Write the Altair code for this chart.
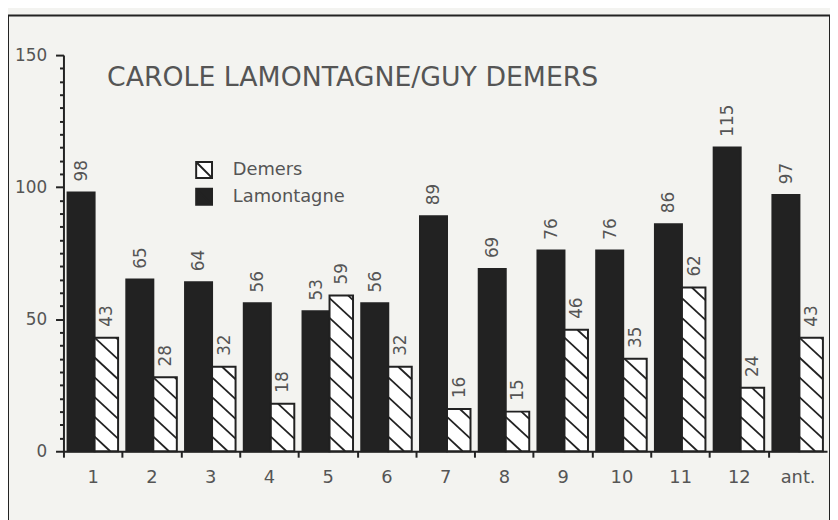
import json
import altair as alt
import pandas as pd

# ---- data ----
categories = ["1", "2", "3", "4", "5", "6", "7", "8", "9", "10", "11", "12", "ant."]
lamontagne = [98, 65, 64, 56, 53, 56, 89, 69, 76, 76, 86, 115, 97]
demers = [43, 28, 32, 18, 59, 32, 16, 15, 46, 35, 62, 24, 43]
series_names = ["Demers", "Lamontagne"]
title_text = "CAROLE LAMONTAGNE/GUY DEMERS"

rows = []
for i, c in enumerate(categories):
    rows.append({"idx": i, "cat": c, "series": "Lamontagne", "value": lamontagne[i]})
    rows.append({"idx": i, "cat": c, "series": "Demers", "value": demers[i]})
df = pd.DataFrame(rows)

INK = "#222222"
TXT = "#555555"
BG = "#f3f3f0"
FONT = "DejaVu Sans"
HATCH_SYMBOL = "M-1,-1L1,-1L1,1L-1,1Z M-1,-1L1,1"

X_SCALE = alt.Scale(domain=[0, 13], range=[56, 827], nice=False, zero=False)
Y_SCALE = alt.Scale(domain=[0, 150], range=[440, 40], nice=False)
FILL_SCALE = alt.Scale(domain=series_names, range=["#ffffff", INK])
STROKE_SCALE = alt.Scale(domain=series_names, range=[INK, INK])

label_js = json.dumps(categories)

x_axis = alt.Axis(
    values=list(range(len(categories))),
    labelExpr=f"{label_js}[datum.value]",
    labelOffset=29.6,
    orient="bottom",
    offset=-80,
    title=None,
    grid=False,
    domainColor=INK,
    domainWidth=2,
    tickColor=INK,
    tickWidth=2,
    tickSize=6,
    labelPadding=12,
    labelFont=FONT,
    labelFontSize=18,
    labelColor=TXT,
    labelFlush=False,
    labelOverlap=False,
)

y_axis = alt.Axis(
    values=list(range(0, 151, 5)),
    labelExpr="datum.value % 50 === 0 ? datum.label : ''",
    orient="left",
    offset=-56,
    title=None,
    grid=False,
    domainColor=INK,
    domainWidth=2,
    tickColor=INK,
    tickWidth=2,
    tickSize={"condition": {"test": "datum.value % 50 === 0", "value": 8}, "value": 4},
    labelPadding=9,
    labelFont=FONT,
    labelFontSize=17,
    labelColor=TXT,
    labelOverlap=False,
)

legend = alt.Legend(
    title=None,
    orient="none",
    legendX=189,
    legendY=147,
    symbolType=HATCH_SYMBOL,
    symbolSize=256,
    symbolStrokeWidth=2,
    symbolOpacity=1,
    labelFont=FONT,
    labelFontSize=18,
    labelColor=TXT,
    labelOffset=20,
    rowPadding=3,
    padding=0,
)


def xq(field):
    return alt.X(field, scale=X_SCALE, axis=x_axis, title=None)


def yq(field):
    return alt.Y(field, scale=Y_SCALE, axis=y_axis, title=None)


base = alt.Chart(df).transform_calculate(
    x0="datum.series === 'Lamontagne' ? datum.idx + 0.07 : datum.idx + 0.53"
).transform_calculate(
    x1="datum.series === 'Lamontagne' ? datum.idx + 0.53 : datum.idx + 0.93"
).transform_calculate(
    xc="(datum.x0 + datum.x1) / 2"
)

bars = base.mark_rect(strokeWidth=2).encode(
    x=xq("x0:Q"),
    x2="x1:Q",
    y=yq("value:Q"),
    y2=alt.datum(0),
    fill=alt.Fill("series:N", scale=FILL_SCALE, legend=legend),
    stroke=alt.Stroke("series:N", scale=STROKE_SCALE, legend=legend),
)

hatch = (
    alt.Chart(df)
    .transform_filter("datum.series === 'Demers'")
    .transform_calculate(ks="sequence(1, 12)")
    .transform_flatten(["ks"])
    .transform_calculate(yl="datum.ks * 7.5 - 2")
    .transform_calculate(t0="max(0, (datum.yl - datum.value) / 8.25)")
    .transform_calculate(t1="min(1, datum.yl / 8.25)")
    .transform_filter("datum.t0 < datum.t1")
    .transform_calculate(hx="datum.idx + 0.53 + datum.t0 * 0.40")
    .transform_calculate(hx2="datum.idx + 0.53 + datum.t1 * 0.40")
    .transform_calculate(hy="datum.yl - datum.t0 * 8.25")
    .transform_calculate(hy2="datum.yl - datum.t1 * 8.25")
    .mark_rule(color=INK, strokeWidth=1.8)
    .encode(
        x=xq("hx:Q"),
        x2="hx2:Q",
        y=yq("hy:Q"),
        y2="hy2:Q",
    )
)

labels = base.mark_text(
    angle=270, align="left", baseline="middle", dx=11, dy=1,
    font=FONT, fontSize=17, color=TXT,
).encode(
    x=xq("xc:Q"),
    y=yq("value:Q"),
    text=alt.Text("value:Q"),
)

chart = (
    alt.layer(bars, hatch, labels)
    .properties(
        width=830,
        height=520,
        autosize="none",
        padding={"left": 0, "top": 5, "right": 0, "bottom": 0},
        title=alt.Title(
            title_text,
            anchor="start",
            orient="top",
            frame="group",
            offset=0,
            dx=100,
            dy=98,
            baseline="alphabetic",
            font=FONT,
            fontSize=27,
            fontWeight="normal",
            color=TXT,
        ),
    )
    .configure(background=BG)
    .configure_view(stroke=INK, strokeWidth=2, fill=BG)
)

chart.save("out.html", embed_options={"renderer": "svg", "actions": False})
